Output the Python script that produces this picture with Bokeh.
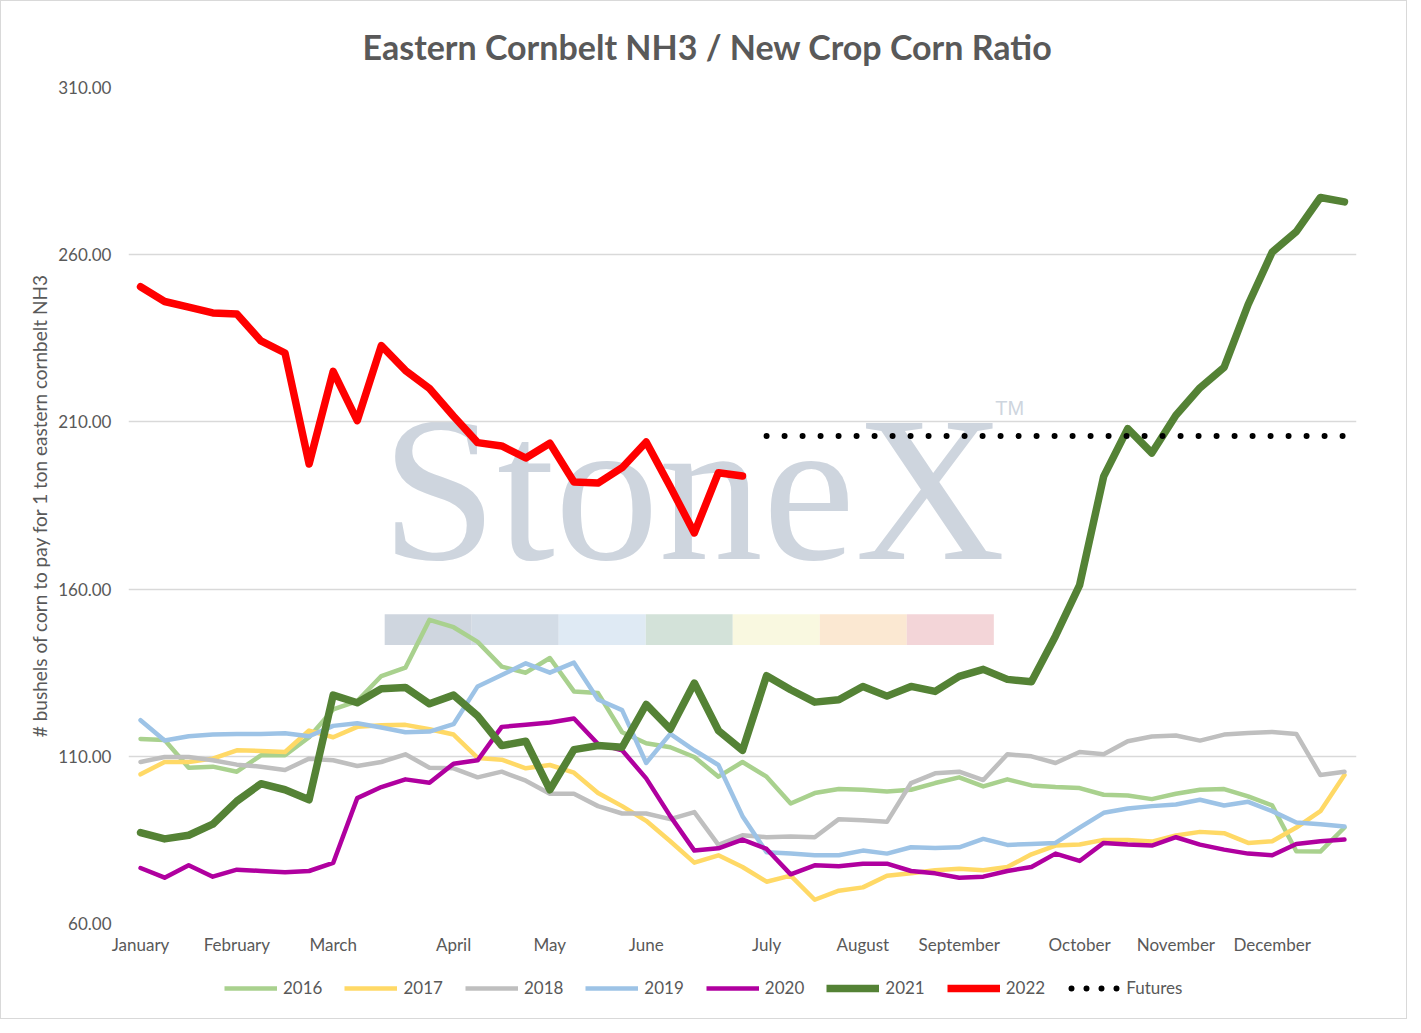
from bokeh.plotting import figure
from bokeh.layouts import column
from bokeh.models import Range1d, FixedTicker, NumeralTickFormatter, Legend, LegendItem
from bokeh.core.properties import value
from bokeh.embed import file_html
from bokeh.resources import INLINE

# ---------------- data ----------------
months = ["January", "February", "March", "April", "May", "June",
          "July", "August", "September", "October", "November", "December"]
month_weeks = [0, 4, 8, 13, 17, 21, 26, 30, 34, 39, 43, 47]
weeks = list(range(51))

y2016 = [115.2, 114.9, 106.6, 106.9, 105.4, 110.3, 110.3, 115.7, 124.0, 126.5, 134.0, 136.5, 150.8, 148.6, 144.2, 136.8, 135.0,
         139.4, 129.4, 128.9, 117.2, 113.9, 112.7, 109.8, 103.9, 108.3, 103.9, 95.9, 99.0, 100.2, 100.0, 99.5, 100.0, 102.0,
         103.7, 101.0, 103.1, 101.3, 100.8, 100.5, 98.5, 98.3, 97.2, 98.8, 100.0, 100.2, 98.0, 95.3, 81.6, 81.5, 88.7]
y2017 = [104.6, 108.3, 108.3, 109.3, 111.8, 111.6, 111.3, 117.7, 115.7, 118.8, 119.3, 119.4, 118.1, 116.5, 109.5, 109.0, 106.4,
         107.4, 105.1, 99.0, 95.1, 90.7, 84.6, 78.2, 80.4, 76.9, 72.5, 74.3, 67.1, 69.8, 70.8, 74.3, 75.0, 75.9,
         76.4, 75.9, 76.9, 80.7, 83.3, 83.6, 85.0, 85.0, 84.5, 86.3, 87.4, 87.0, 84.1, 84.6, 88.7, 93.6, 104.4]
y2018 = [108.3, 109.8, 109.8, 108.8, 107.5, 106.9, 105.9, 109.3, 108.8, 107.1, 108.3, 110.6, 106.6, 106.4, 103.7, 105.4, 102.7,
         98.8, 98.8, 95.1, 92.9, 92.9, 91.2, 93.3, 83.5, 86.4, 85.8, 86.0, 85.8, 91.2, 90.9, 90.4, 102.0, 104.9,
         105.4, 102.9, 110.6, 110.0, 108.0, 111.3, 110.6, 114.5, 115.9, 116.2, 114.7, 116.5, 117.0, 117.3, 116.7, 104.4, 105.4]
y2019 = [120.8, 114.7, 116.0, 116.5, 116.7, 116.7, 116.9, 116.0, 119.1, 119.9, 118.6, 117.2, 117.4, 119.6, 130.9, 134.3, 137.8,
         135.0, 138.0, 127.0, 123.8, 108.0, 116.7, 111.8, 107.4, 92.1, 81.3, 80.9, 80.4, 80.4, 81.8, 80.9, 82.8, 82.6,
         82.8, 85.3, 83.5, 83.8, 84.1, 88.7, 93.1, 94.4, 95.1, 95.6, 97.0, 95.3, 96.4, 93.6, 90.2, 89.7, 89.0]
y2020 = [76.6, 73.7, 77.4, 74.0, 76.1, 75.7, 75.3, 75.7, 78.1, 97.5, 100.8, 103.1, 102.1, 107.8, 108.8, 118.8, 119.4,
         120.1, 121.3, 113.7, 111.8, 103.4, 92.1, 81.8, 82.5, 85.1, 82.3, 74.7, 77.4, 77.1, 77.9, 77.9, 75.7, 75.0,
         73.7, 74.0, 75.7, 76.9, 80.9, 78.7, 84.1, 83.6, 83.3, 85.8, 83.6, 82.1, 80.9, 80.4, 83.8, 84.6, 85.1]
y2021 = [87.2, 85.3, 86.4, 89.7, 96.6, 101.8, 100.0, 97.0, 128.3, 126.0, 130.2, 130.6, 125.7, 128.3, 122.1, 113.2, 114.5,
         100.0, 112.0, 113.2, 112.7, 125.5, 118.1, 131.9, 117.7, 111.8, 134.1, 129.9, 126.2, 126.9, 130.9, 128.0, 130.9, 129.4,
         133.9, 136.0, 133.0, 132.3, 146.0, 161.2, 193.7, 208.0, 200.7, 212.0, 220.2, 226.3, 245.1, 260.8, 266.9, 277.1, 275.8]
weeks2022 = list(range(26))
y2022 = [250.4, 246.0, 244.3, 242.6, 242.3, 234.2, 230.6, 197.4, 225.1, 210.4, 232.8, 225.4, 220.0, 211.7, 203.8, 202.8,
         199.2, 203.6, 192.0, 191.7, 196.3, 204.0, 190.6, 176.8, 194.8, 193.8]
futures_weeks = list(range(26, 51))
futures = [205.8, 205.8, 205.8, 205.8, 205.8, 205.8, 205.8, 205.8, 205.8, 205.8, 205.8, 205.8, 205.8,
           205.8, 205.8, 205.8, 205.8, 205.8, 205.8, 205.8, 205.8, 205.8, 205.8, 205.8, 205.8]
y_ticks = [60, 110, 160, 210, 260, 310]

# name, values, weeks, colour, width, dash
series = [("2016", y2016, weeks, "#a9d18e", 4.5, "solid"),
          ("2017", y2017, weeks, "#ffd966", 4.5, "solid"),
          ("2018", y2018, weeks, "#bfbfbf", 4.5, "solid"),
          ("2019", y2019, weeks, "#9dc3e6", 4.5, "solid"),
          ("2020", y2020, weeks, "#b0009f", 4.5, "solid"),
          ("2021", y2021, weeks, "#548235", 7.5, "solid"),
          ("2022", y2022, weeks2022, "#ff0000", 7.5, "solid"),
          ("Futures", futures, futures_weeks, "black", 6, "0 18")]

FONT = "Lato"
GREY = "#595959"

p = figure(width=1405, height=960, output_backend="svg", toolbar_location=None,
           x_range=Range1d(-0.5, 50.5), y_range=Range1d(60, 310),
           min_border_left=127, min_border_right=50, min_border_top=86, min_border_bottom=38)
p.outline_line_color = None
p.background_fill_color = "white"
p.border_fill_color = "white"

# ---------------- watermark (decoration) ----------------
wm_colors = ["#cfd6df", "#d3dce6", "#dfeaf4", "#d3e2d9", "#f9f8e0", "#fbe8d2", "#f3d5d8"]
wm_left = 10.14
wm_w = 3.614
p.quad(left=[wm_left + k * wm_w for k in range(7)], right=[wm_left + (k + 1) * wm_w for k in range(7)],
       bottom=[143.3] * 7, top=[152.5] * 7, fill_color=wm_colors, line_color=None, level="underlay")
p.text(x=[10.0], y=[190.0], text=["StoneX"], text_font=value("Liberation Serif"), text_font_size="208px",
       text_color="#ced5de", text_baseline="alphabetic", text_align="left", level="underlay")
p.text(x=[35.5], y=[217.5], text=["TM"], text_font=value("Liberation Sans"), text_font_size="20px",
       text_color="#ced5de", text_baseline="top", text_align="left", level="underlay")

# ---------------- series ----------------
for name, ys, xs, col, lw, dash in series:
    if dash == "solid":
        p.line(xs, ys, line_color=col, line_width=lw, line_join="round", line_cap="round")
    else:
        p.line(xs, ys, line_color=col, line_width=lw, line_dash=dash, line_cap="round")

# ---------------- axes ----------------
p.xgrid.visible = False
p.ygrid.grid_line_color = "#d9d9d9"
p.ygrid.grid_line_width = 1.5

p.yaxis.ticker = FixedTicker(ticks=y_ticks)
p.yaxis.formatter = NumeralTickFormatter(format="0.00")
p.yaxis.axis_label = "# bushels of corn to pay for 1 ton eastern cornbelt NH3"
p.yaxis.axis_label_text_font = FONT
p.yaxis.axis_label_text_font_size = "19px"
p.yaxis.axis_label_text_font_style = "normal"
p.yaxis.axis_label_text_color = GREY
p.yaxis.axis_label_standoff = 4

p.xaxis.ticker = FixedTicker(ticks=month_weeks)
p.xaxis.major_label_overrides = {w: m for w, m in zip(month_weeks, months)}

for ax in (p.xaxis, p.yaxis):
    ax.axis_line_color = None
    ax.major_tick_line_color = None
    ax.minor_tick_line_color = None
    ax.major_tick_out = 0
    ax.major_tick_in = 0
    ax.minor_tick_out = 0
    ax.major_label_text_font = FONT
    ax.major_label_text_font_size = "17px"
    ax.major_label_text_color = GREY
p.yaxis.major_label_standoff = 17
p.xaxis.major_label_standoff = 10

# ---------------- title ----------------
p.title.text = "Eastern Cornbelt NH3 / New Crop Corn Ratio"
p.title.align = "left"
p.title.text_font = FONT
p.title.text_font_size = "34px"
p.title.text_font_style = "bold"
p.title.text_color = GREY
p.title.offset = 234
p.title.vertical_align = "bottom"
p.title.standoff = 42

# ---------------- legend (own strip under the chart) ----------------
lg = figure(width=1405, height=57, output_backend="svg", toolbar_location=None,
            x_axis_type=None, y_axis_type=None,
            x_range=Range1d(-200, -199), y_range=Range1d(-200, -199), min_border=0)
lg.grid.visible = False
lg.outline_line_color = None
lg.background_fill_color = "white"
lg.border_fill_color = "white"
items = []
for name, ys, xs, col, lw, dash in series:
    if dash == "solid":
        r = lg.line(xs, ys, line_color=col, line_width=lw, line_cap="butt")
    else:
        r = lg.line(xs, ys, line_color=col, line_width=lw, line_dash="0 15", line_dash_offset=-4, line_cap="round")
    items.append(LegendItem(label=name, renderers=[r]))
legend = Legend(items=items, orientation="horizontal", location=(96, 20),
                glyph_width=53, glyph_height=20, label_standoff=6, spacing=22, padding=5, margin=0,
                border_line_color=None, background_fill_alpha=0,
                label_text_font=FONT, label_text_font_size="17px", label_text_color=GREY)
lg.add_layout(legend)

layout = column(p, lg, spacing=0)
layout.styles = {"border": "1px solid #d9d9d9"}

open("out.html", "w").write(file_html(layout, INLINE))
